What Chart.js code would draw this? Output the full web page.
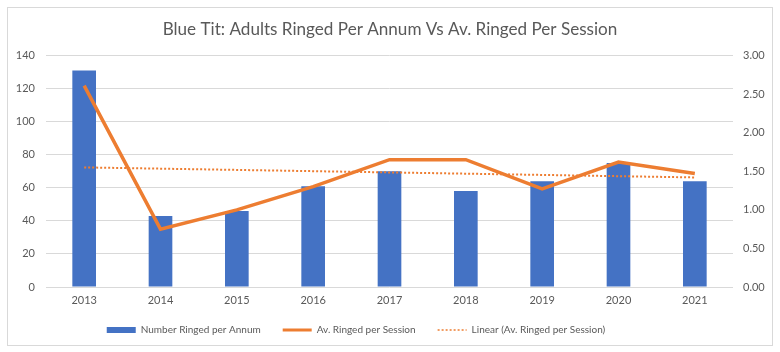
<!DOCTYPE html>
<html>
<head>
<meta charset="utf-8">
<script src="https://cdn.jsdelivr.net/npm/chart.js@4"></script>
<style>
  body { margin: 0; background: #fff; }
  #wrap { width: 780px; height: 352px; }
</style>
</head>
<body>
<div id="wrap"><canvas id="chart" width="780" height="352"></canvas></div>
<script>
const years = ['2013', '2014', '2015', '2016', '2017', '2018', '2019', '2020', '2021'];
const ringedPerAnnum = [131, 43, 46, 61, 70, 58, 64, 75, 64];
const ringedPerSession = [2.61, 0.75, 1.00, 1.30, 1.65, 1.65, 1.27, 1.62, 1.47];
// Excel linear trendline at its two ends
const trendLine = [1.55, null, null, null, null, null, null, null, 1.42];

const leftTicks = [0, 20, 40, 60, 80, 100, 120, 140];
const rightTicks = [0, 0.5, 1, 1.5, 2, 2.5, 3];

const textColor = '#595959';
const gridColor = '#D9D9D9';
const fontFamily = 'Lato, "Liberation Sans", sans-serif';

const frame = {
  id: 'frame',
  beforeDraw(chart) {
    const c = chart.ctx;
    c.save();
    c.fillStyle = '#fff';
    c.fillRect(0, 0, chart.width, chart.height);
    c.strokeStyle = gridColor;
    c.lineWidth = 1;
    c.strokeRect(7.5, 7.5, 765, 338);
    c.restore();
  },
  // Excel puts the legend a bit higher and left of centre
  afterLayout(chart) {
    const lg = chart.legend;
    lg.top -= 4;
    lg.bottom -= 4;
    lg.left -= 34;
    lg.right -= 34;
  }
};

new Chart(document.getElementById('chart'), {
  data: {
    labels: years,
    datasets: [
      {
        type: 'bar',
        label: 'Number Ringed per Annum',
        data: ringedPerAnnum,
        backgroundColor: '#4472C4',
        yAxisID: 'y',
        order: 3,
        barPercentage: 0.31,
        categoryPercentage: 1
      },
      {
        type: 'line',
        label: 'Av. Ringed per Session',
        data: ringedPerSession,
        borderColor: '#ED7D31',
        backgroundColor: '#ED7D31',
        borderWidth: 3.5,
        pointRadius: 0,
        tension: 0,
        yAxisID: 'y1',
        order: 1
      },
      {
        type: 'line',
        label: 'Linear (Av. Ringed per Session)',
        data: trendLine,
        borderColor: '#ED7D31',
        backgroundColor: '#ED7D31',
        borderWidth: 2,
        borderDash: [2, 2],
        pointRadius: 0,
        spanGaps: true,
        yAxisID: 'y1',
        order: 2
      }
    ]
  },
  options: {
    responsive: false,
    animation: false,
    layout: { padding: { top: 0, left: 0, right: 0, bottom: 3 } },
    plugins: {
      title: {
        display: true,
        text: 'Blue Tit: Adults Ringed Per Annum Vs Av. Ringed Per Session',
        color: textColor,
        font: { family: fontFamily, size: 17.1, weight: 'normal' },
        padding: { top: 19, bottom: 16 }
      },
      legend: {
        position: 'bottom',
        labels: {
          color: textColor,
          font: { family: fontFamily, size: 10 },
          usePointStyle: true,
          boxHeight: 6,
          pointStyleWidth: 29,
          padding: 22,
          sort: (a, b) => a.datasetIndex - b.datasetIndex,
          generateLabels(chart) {
            const items = Chart.defaults.plugins.legend.labels.generateLabels(chart);
            items.forEach(it => {
              const i = it.datasetIndex;
              if (i === 0) {
                it.pointStyle = 'rect';
                it.lineWidth = 0;
              } else {
                it.pointStyle = 'line';
                it.lineWidth = i === 1 ? 3 : 1.5;
                it.lineDash = i === 2 ? [2, 2] : [];
              }
            });
            return items;
          }
        }
      },
      tooltip: { enabled: false }
    },
    scales: {
      x: {
        grid: { display: false, drawTicks: false },
        border: { display: false },
        afterFit(axis) { axis.height = 20; },
        ticks: { color: textColor, font: { family: fontFamily, size: 11 }, padding: 7 }
      },
      y: {
        position: 'left',
        min: 0,
        max: 140,
        afterBuildTicks(axis) { axis.ticks = leftTicks.map(v => ({ value: v })); },
        afterFit(axis) { axis.width = 46; },
        grid: { color: gridColor, drawTicks: false },
        border: { display: false },
        ticks: { color: textColor, font: { family: fontFamily, size: 11 }, padding: 11 }
      },
      y1: {
        position: 'right',
        min: 0,
        max: 3,
        afterBuildTicks(axis) { axis.ticks = rightTicks.map(v => ({ value: v })); },
        afterFit(axis) { axis.width = 47; },
        grid: { drawOnChartArea: false, drawTicks: false },
        border: { display: false },
        ticks: {
          color: textColor,
          font: { family: fontFamily, size: 11 },
          padding: 10,
          callback: v => Number(v).toFixed(2)
        }
      }
    }
  },
  plugins: [frame]
});
</script>
</body>
</html>
